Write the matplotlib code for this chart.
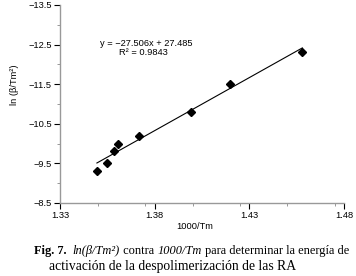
import matplotlib
matplotlib.use('Agg')
import matplotlib.pyplot as plt
import numpy as np
from matplotlib.ticker import MultipleLocator, FuncFormatter

### Plot settings
plt.rcParams['font.family'] = ['Liberation Sans', 'DejaVu Sans']

# data
inv_tm = [1.3495, 1.3548, 1.3587, 1.3607, 1.3717, 1.3991, 1.4197, 1.4580]
ln_beta = [-9.32, -9.52, -9.81, -10.00, -10.20, -10.80, -11.51, -12.32]
x_ticks = [1.33, 1.38, 1.43, 1.48]
y_ticks = [-13.5, -12.5, -11.5, -10.5, -9.5, -8.5]
eq_text = 'y = \u221227.506x + 27.485'
r2_text = 'R\u00b2 = 0.9843'
# caption pieces: (text, style, weight)
cap_line1 = [('Fig. 7.', 'normal', 'bold'), ('  ', 'normal', 'normal'),
             ('ln(\u03b2/Tm\u00b2)', 'italic', 'normal'), (' contra ', 'normal', 'normal'),
             ('1000/Tm', 'italic', 'normal'),
             (' para determinar la energía de', 'normal', 'normal')]
cap_line2 = [('activación de la despolimerización de las RA', 'normal', 'normal')]

x = np.array(inv_tm)
y = np.array(ln_beta)
k, b = np.polyfit(x, y, 1)
xl = np.array([x.min(), x.max()])

fig = plt.figure(figsize=(3.56, 2.76), dpi=100)
ax = fig.add_axes([0.1685, 0.2645, 0.7978, 0.7174])

ax.plot(xl, k * xl + b, color='black', linewidth=0.8)
ax.plot(x, y, linestyle='none', marker='D', markersize=4.2, color='black')

ax.set_xlim(1.33, 1.48)
ax.set_ylim(-8.5, -13.5)
ax.set_xticks(x_ticks)
ax.set_yticks(y_ticks)
ax.xaxis.set_minor_locator(MultipleLocator(0.025))
ax.yaxis.set_minor_locator(MultipleLocator(0.5))
ax.xaxis.set_major_formatter(FuncFormatter(lambda v, p: f'{v:.2f}'))
ax.yaxis.set_major_formatter(FuncFormatter(lambda v, p: f'{v:.1f}'.replace('-', '\u2212')))

for s in ['top', 'right']:
    ax.spines[s].set_visible(False)
for s in ['left', 'bottom']:
    ax.spines[s].set_color('#999999')
    ax.spines[s].set_linewidth(1.0)

ax.tick_params(which='major', direction='out', length=4, width=0.8, color='black',
               labelsize=6.7, pad=2)
ax.tick_params(which='minor', direction='out', length=2, width=0.6, color='#888888')

ax.text(1.3757, -12.54, eq_text, ha='center', va='center', fontsize=6.7)
ax.text(1.3742, -12.29, r2_text, ha='center', va='center', fontsize=6.7)

fig.text(0.04, 0.692, 'ln (\u03b2/Tm\u00b2)', rotation=90, ha='center', va='center',
         fontsize=6.7)
fig.text(0.546, 0.178, '1000/Tm', ha='center', va='center', fontsize=6.7)

# caption: pieces placed one after another
fig.canvas.draw()
renderer = fig.canvas.get_renderer()


def put_line(pieces, x0, y0, size):
    xp = x0
    for txt, style, weight in pieces:
        t = fig.text(xp, y0, txt, ha='left', va='baseline', fontsize=size,
                     family='Liberation Serif', style=style, weight=weight)
        bb = t.get_window_extent(renderer)
        xp += bb.width / fig.bbox.width


put_line(cap_line1, 0.0955, 0.080, 8.9)
put_line(cap_line2, 0.138, 0.022, 9.8)

fig.savefig('out.png', dpi=100)
